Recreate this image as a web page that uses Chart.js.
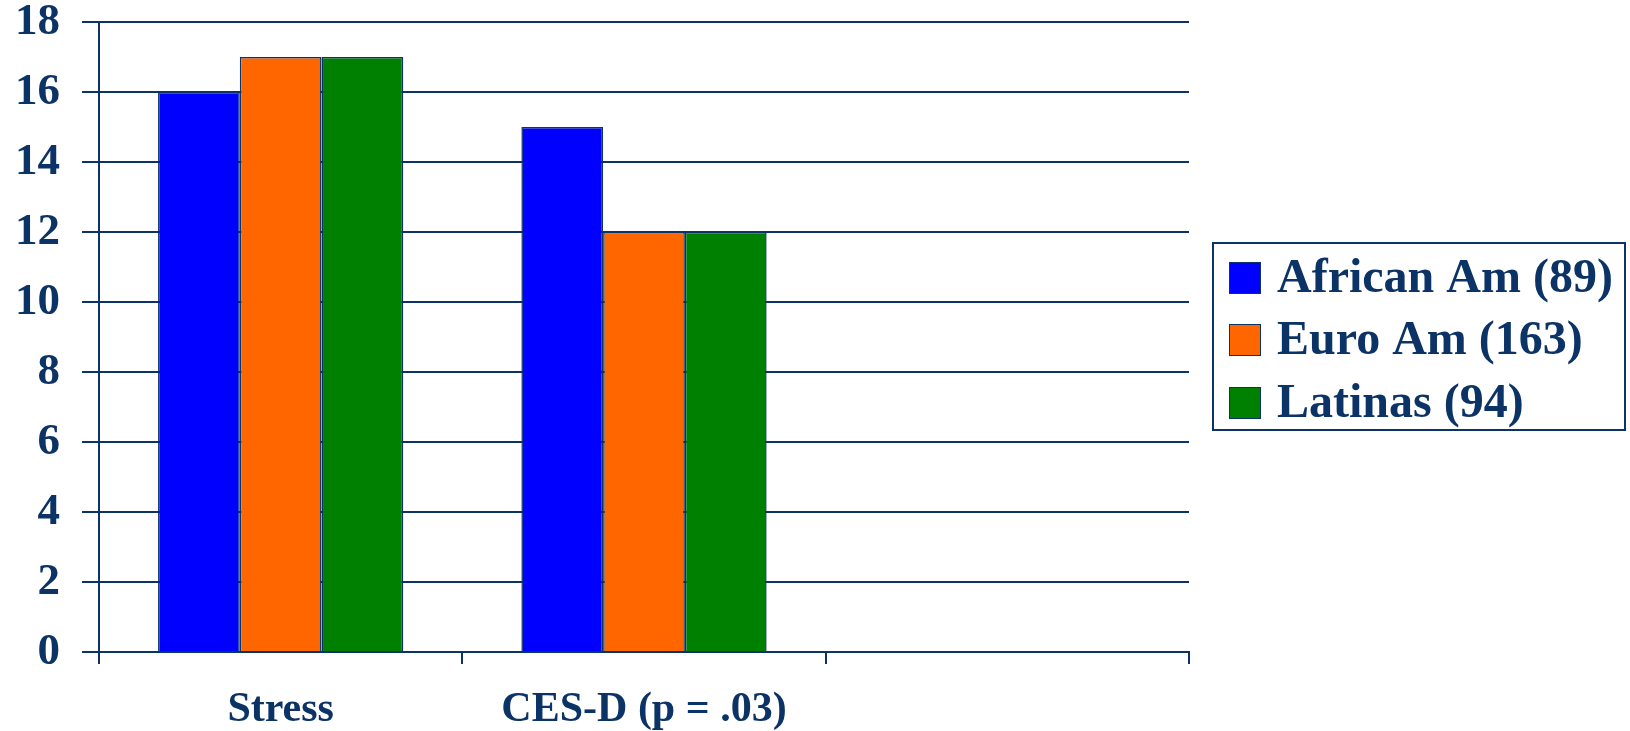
<!DOCTYPE html>
<html>
<head>
<meta charset="utf-8">
<script src="https://cdn.jsdelivr.net/npm/chart.js@4"></script>
<style>
  html, body { margin: 0; padding: 0; background: #fff; }
  #wrap { width: 1630px; height: 731px; }
</style>
</head>
<body>
<div id="wrap"><canvas id="myChart" width="1630" height="731"></canvas></div>
<script>
// dados do grafico
const categorias = ['Stress', 'CES-D (p = .03)', ''];
const africanAm = [16, 15, null];
const euroAm = [17, 12, null];
const latinas = [17, 12, null];
const yTicks = [0, 2, 4, 6, 8, 10, 12, 14, 16, 18];

const azulEscuro = '#0b3366';
const fonte = '"Liberation Serif", "Times New Roman", serif';

// legenda desenhada a mao (com moldura)
const legendaBox = {
  id: 'legendaBox',
  afterDraw(chart) {
    const c = chart.ctx;
    c.save();
    c.strokeStyle = azulEscuro;
    c.lineWidth = 2;
    c.strokeRect(1213, 243, 412, 187);
    const rows = [278, 340, 403];
    chart.data.datasets.forEach(function(ds, i) {
      const y = rows[i];
      c.fillStyle = ds.backgroundColor;
      c.fillRect(1229, y - 16, 32, 32);
      c.lineWidth = 1;
      c.strokeStyle = azulEscuro;
      c.strokeRect(1229.5, y - 15.5, 31, 31);
      c.fillStyle = azulEscuro;
      c.font = 'bold 48px ' + fonte;
      c.textBaseline = 'middle';
      c.textAlign = 'left';
      c.fillText(ds.label, 1277, y + 2);
    });
    c.restore();
  }
};

const ctx = document.getElementById('myChart').getContext('2d');
new Chart(ctx, {
  type: 'bar',
  data: {
    labels: categorias,
    datasets: [
      { label: 'African Am (89)', data: africanAm, backgroundColor: '#0000ff' },
      { label: 'Euro Am (163)', data: euroAm, backgroundColor: '#ff6600' },
      { label: 'Latinas (94)', data: latinas, backgroundColor: '#008000' }
    ]
  },
  options: {
    responsive: false,
    animation: false,
    layout: { padding: { left: 0, right: 441, top: 22, bottom: 0 } },
    datasets: {
      bar: {
        barPercentage: 1.0,
        categoryPercentage: 0.675,
        borderColor: azulEscuro,
        borderWidth: 1.5
      }
    },
    plugins: {
      legend: { display: false },
      tooltip: { enabled: false }
    },
    scales: {
      x: {
        afterFit: function(scale) {
          scale.height = 79;
          scale.paddingLeft = 0;
          scale.paddingRight = 0;
        },
        grid: {
          offset: true,
          drawOnChartArea: false,
          drawTicks: true,
          tickLength: 12,
          color: azulEscuro,
          lineWidth: 2
        },
        border: { display: true, color: azulEscuro, width: 2 },
        ticks: {
          color: azulEscuro,
          padding: 25,
          maxRotation: 0,
          font: { family: fonte, size: 42, weight: 'bold', lineHeight: 1 }
        }
      },
      y: {
        min: 0,
        max: 18,
        afterFit: function(scale) {
          scale.width = 99;
          scale.paddingTop = 0;
          scale.paddingBottom = 0;
        },
        afterBuildTicks: function(scale) {
          scale.ticks = yTicks.map(function(v) { return { value: v }; });
        },
        grid: {
          drawTicks: true,
          tickLength: 17,
          color: azulEscuro,
          lineWidth: 2
        },
        border: { display: true, color: azulEscuro, width: 2 },
        ticks: {
          color: azulEscuro,
          padding: 22,
          font: { family: fonte, size: 45, weight: 'bold', lineHeight: 1 }
        }
      }
    }
  },
  plugins: [legendaBox]
});
</script>
</body>
</html>
